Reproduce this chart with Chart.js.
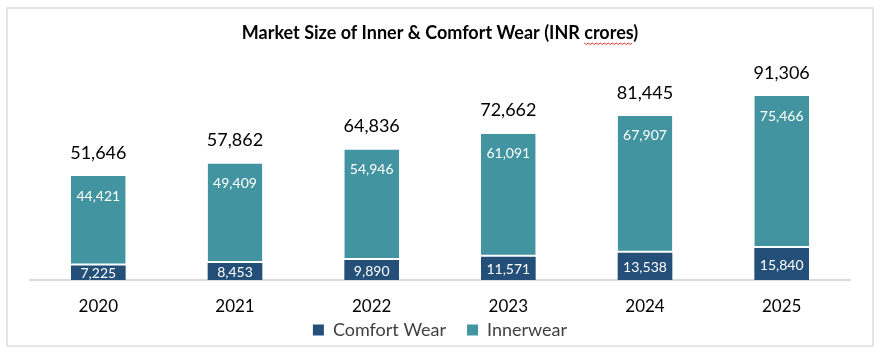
<!DOCTYPE html>
<html>
<head>
<meta charset="utf-8">
<script src="https://cdn.jsdelivr.net/npm/chart.js@4"></script>
<style>
  html, body { margin: 0; padding: 0; background: #fff; }
  #wrap { width: 880px; height: 354px; }
</style>
</head>
<body>
<div id="wrap"><canvas id="grafico" width="880" height="354"></canvas></div>
<script>
// datos
const years = ["2020", "2021", "2022", "2023", "2024", "2025"];
const comfortWear = [7225, 8453, 9890, 11571, 13538, 15840];
const innerwear = [44421, 49409, 54946, 61091, 67907, 75466];
const totals = [51646, 57862, 64836, 72662, 81445, 91306];

const colorComfort = "#234f78";
const colorInner = "#4394a1";
const fuente = "Lato, 'Liberation Sans', sans-serif";
const titulo = "Market Size of Inner & Comfort Wear (INR crores)";

const fmt = (v) => v.toLocaleString("en-US");

// marco, etiquetas y subrayado rojo del titulo
const extras = {
  id: "extras",
  afterLayout(chart) {
    // el eje x se ajusto bajito para acercar la leyenda, se agranda su zona para que no recorte los años
    chart.scales.x.bottom += 25;
  },
  beforeDraw(chart) {
    const ctx = chart.ctx;
    ctx.save();
    ctx.fillStyle = "#fff";
    ctx.fillRect(0, 0, chart.width, chart.height);
    ctx.strokeStyle = "#d9dee4";
    ctx.lineWidth = 1.5;
    ctx.strokeRect(7, 8, 866, 338);
    ctx.restore();
  },
  afterDraw(chart) {
    const ctx = chart.ctx;
    const x = chart.scales.x;
    const y = chart.scales.y;
    ctx.save();
    ctx.textAlign = "center";
    ctx.textBaseline = "middle";
    years.forEach((_, i) => {
      const cx = x.getPixelForValue(i);
      const yBase = y.getPixelForValue(0);
      const yMid = y.getPixelForValue(comfortWear[i]);
      const yTop = y.getPixelForValue(totals[i]);
      ctx.fillStyle = "#fff";
      ctx.font = "14px " + fuente;
      ctx.fillText(fmt(comfortWear[i]), cx, (yBase + yMid) / 2 + 1);
      ctx.fillText(fmt(innerwear[i]), cx, yTop + 20);
      ctx.fillStyle = "#000";
      ctx.font = "18px " + fuente;
      ctx.fillText(fmt(totals[i]), cx, yTop - 23);
    });
    // subrayado ondulado bajo "crores"
    const t = chart.titleBlock;
    ctx.font = "bold 18px " + fuente;
    const total = ctx.measureText(titulo).width;
    const antes = ctx.measureText("Market Size of Inner & Comfort Wear (INR ").width;
    const palabra = ctx.measureText("crores").width;
    const x0 = (t.left + t.right) / 2 - total / 2 + antes;
    const yw = 43;
    ctx.strokeStyle = "#e03030";
    ctx.lineWidth = 1;
    ctx.beginPath();
    for (let k = 0; k <= palabra; k += 2) {
      const yy = yw + ((k / 2) % 2 === 0 ? 0 : 1.5);
      if (k === 0) ctx.moveTo(x0 + k, yy); else ctx.lineTo(x0 + k, yy);
    }
    ctx.stroke();
    ctx.restore();
  }
};

new Chart(document.getElementById("grafico"), {
  type: "bar",
  data: {
    labels: years,
    datasets: [
      {
        label: "Comfort Wear",
        data: comfortWear,
        backgroundColor: colorComfort,
        borderWidth: 0,
        categoryPercentage: 0.4,
        barPercentage: 1
      },
      {
        label: "Innerwear",
        data: innerwear,
        backgroundColor: colorInner,
        borderColor: "#fff",
        borderWidth: { top: 0, left: 0, right: 0, bottom: 2 },
        borderSkipped: false,
        categoryPercentage: 0.4,
        barPercentage: 1
      }
    ]
  },
  options: {
    responsive: false,
    animation: false,
    devicePixelRatio: 1,
    layout: { padding: { left: 30, right: 30, top: 0, bottom: 5 } },
    plugins: {
      title: {
        display: true,
        text: titulo,
        color: "#000",
        font: { family: fuente, size: 18, weight: "bold" },
        padding: { top: 22, bottom: 35 }
      },
      legend: {
        position: "bottom",
        labels: {
          color: "#404040",
          font: { family: fuente, size: 18 },
          boxWidth: 11,
          boxHeight: 11,
          padding: 21,
          generateLabels(chart) {
            return chart.data.datasets.map((ds, i) => ({
              text: ds.label,
              fillStyle: ds.backgroundColor,
              strokeStyle: ds.backgroundColor,
              lineWidth: 0,
              fontColor: "#404040",
              datasetIndex: i,
              hidden: false
            }));
          }
        }
      },
      tooltip: { enabled: false }
    },
    scales: {
      x: {
        stacked: true,
        grid: { display: false, drawTicks: false },
        border: { display: true, color: "#d9d9d9", width: 2 },
        ticks: { color: "#000", font: { family: fuente, size: 17 }, padding: 16 },
        afterFit(scale) { scale.height = 20; }
      },
      y: {
        stacked: true,
        display: false,
        min: 0,
        max: 100000
      }
    }
  },
  plugins: [extras]
});
</script>
</body>
</html>
